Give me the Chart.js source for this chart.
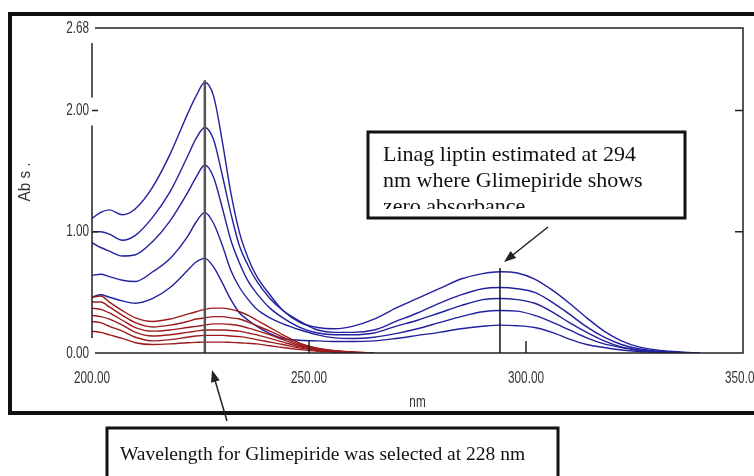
<!DOCTYPE html>
<html>
<head>
<meta charset="utf-8">
<script src="https://cdn.jsdelivr.net/npm/chart.js@4.4.1/dist/chart.umd.min.js"></script>
<style>
  html, body { margin: 0; padding: 0; background: #fff; }
</style>
</head>
<body>
<canvas id="spectra" width="754" height="476"></canvas>
<script>
// comprimentos de onda (nm) usados em todas as curvas
const wavelengths = [200, 202, 204, 207, 210, 214, 218, 222, 224, 226, 228, 230, 232, 234, 236, 238, 241, 244, 248, 252,
                     256, 260, 265, 270, 275, 280, 285, 290, 294, 298, 302, 306, 310, 314, 318, 322, 326, 330, 335, 340];

// linagliptina (azul)
const blue1 = [1.11, 1.16, 1.18, 1.14, 1.19, 1.37, 1.64, 1.97, 2.12, 2.23, 2.12, 1.75, 1.32, 0.99, 0.78, 0.63, 0.48, 0.35, 0.25, 0.21,
               0.20, 0.22, 0.28, 0.37, 0.45, 0.53, 0.61, 0.655, 0.67, 0.66, 0.61, 0.52, 0.41, 0.29, 0.18, 0.10, 0.05, 0.025, 0.01, 0];
const blue2 = [1.00, 1.00, 0.98, 0.93, 0.97, 1.12, 1.33, 1.62, 1.77, 1.86, 1.76, 1.47, 1.15, 0.88, 0.72, 0.59, 0.45, 0.35, 0.26, 0.19,
               0.17, 0.17, 0.19, 0.26, 0.33, 0.41, 0.48, 0.53, 0.54, 0.53, 0.50, 0.42, 0.32, 0.215, 0.13, 0.07, 0.035, 0.015, 0.005, 0];
const blue3 = [0.91, 0.87, 0.84, 0.80, 0.81, 0.92, 1.09, 1.32, 1.45, 1.55, 1.45, 1.20, 0.93, 0.74, 0.59, 0.49, 0.37, 0.29, 0.21, 0.165,
               0.15, 0.15, 0.165, 0.22, 0.27, 0.33, 0.39, 0.44, 0.45, 0.44, 0.41, 0.34, 0.25, 0.17, 0.10, 0.05, 0.025, 0.01, 0.004, 0];
const blue4 = [0.64, 0.65, 0.63, 0.60, 0.59, 0.67, 0.78, 0.96, 1.08, 1.16, 1.07, 0.89, 0.68, 0.54, 0.44, 0.36, 0.29, 0.24, 0.19, 0.15,
               0.125, 0.12, 0.13, 0.16, 0.20, 0.25, 0.30, 0.34, 0.35, 0.345, 0.31, 0.255, 0.19, 0.125, 0.075, 0.045, 0.02, 0.01, 0.003, 0];
const blue5 = [0.46, 0.48, 0.46, 0.43, 0.41, 0.45, 0.54, 0.68, 0.75, 0.78, 0.71, 0.58, 0.44, 0.33, 0.27, 0.22, 0.16, 0.12, 0.105, 0.10,
               0.095, 0.095, 0.10, 0.12, 0.145, 0.17, 0.20, 0.22, 0.23, 0.225, 0.21, 0.17, 0.115, 0.07, 0.045, 0.025, 0.012, 0.005, 0, 0];

// glimepirida (vermelho), so ate 265 nm
const red1 = [0.46, 0.47, 0.42, 0.35, 0.29, 0.26, 0.28, 0.32, 0.34, 0.36, 0.37, 0.37, 0.36, 0.34, 0.31, 0.27, 0.21, 0.15, 0.08, 0.04, 0.02, 0.008, 0];
const red2 = [0.42, 0.42, 0.38, 0.31, 0.25, 0.215, 0.23, 0.26, 0.28, 0.29, 0.30, 0.30, 0.29, 0.28, 0.255, 0.225, 0.18, 0.13, 0.07, 0.035, 0.018, 0.007, 0];
const red3 = [0.37, 0.36, 0.33, 0.27, 0.21, 0.18, 0.19, 0.21, 0.22, 0.23, 0.24, 0.24, 0.235, 0.225, 0.205, 0.185, 0.15, 0.11, 0.06, 0.03, 0.015, 0.006, 0];
const red4 = [0.31, 0.30, 0.28, 0.23, 0.17, 0.14, 0.15, 0.17, 0.18, 0.19, 0.19, 0.19, 0.185, 0.18, 0.165, 0.15, 0.12, 0.09, 0.05, 0.025, 0.012, 0.005, 0];
const red5 = [0.26, 0.25, 0.22, 0.18, 0.13, 0.10, 0.11, 0.13, 0.14, 0.145, 0.145, 0.145, 0.14, 0.135, 0.125, 0.11, 0.09, 0.07, 0.04, 0.02, 0.01, 0.004, 0];
const red6 = [0.18, 0.17, 0.15, 0.12, 0.085, 0.07, 0.075, 0.085, 0.088, 0.09, 0.09, 0.09, 0.088, 0.085, 0.08, 0.075, 0.06, 0.045, 0.028, 0.015, 0.008, 0.003, 0];

// linhas verticais de selecao
const markerWavelengths = [226, 294];
const markerTops = [2.25, 0.70];

// ticks
const xTicks = [200, 250, 300, 350];
const xTickLabels = ['200.00', '250.00', '300.00', '350.00'];
const yTicks = [0, 1, 2, 2.68];
const yTickLabels = ['0.00', '1.00', '2.00', '2.68'];

const BLUE = '#21219e';
const RED = '#9c1c1c';
const sans = "'Liberation Sans', Arial, sans-serif";

function pares(vals) {
    return vals.map((v, i) => ({ x: wavelengths[i], y: v }));
}

function curva(vals, cor, ordem) {
    return {
        data: pares(vals),
        borderColor: cor,
        borderWidth: 1.4,
        pointRadius: 0,
        fill: false,
        cubicInterpolationMode: 'monotone',
        order: ordem
    };
}

// texto estreito (fonte condensada do original)
function textoEstreito(ctx, txt, x, y, align, fator) {
    ctx.save();
    ctx.translate(x, y);
    ctx.scale(fator || 0.69, 1);
    ctx.textAlign = align;
    ctx.fillText(txt, 0, 0);
    ctx.restore();
}

function seta(ctx, x0, y0, x1, y1) {
    const ang = Math.atan2(y1 - y0, x1 - x0);
    ctx.beginPath();
    ctx.moveTo(x0, y0);
    ctx.lineTo(x1 - 8 * Math.cos(ang), y1 - 8 * Math.sin(ang));
    ctx.stroke();
    ctx.beginPath();
    ctx.moveTo(x1, y1);
    ctx.lineTo(x1 - 12 * Math.cos(ang) + 4.5 * Math.sin(ang), y1 - 12 * Math.sin(ang) - 4.5 * Math.cos(ang));
    ctx.lineTo(x1 - 12 * Math.cos(ang) - 4.5 * Math.sin(ang), y1 - 12 * Math.sin(ang) + 4.5 * Math.cos(ang));
    ctx.closePath();
    ctx.fill();
}

// moldura, eixos e anotacoes
const molduraPlugin = {
    id: 'moldura',
    afterDraw(chart) {
        const ctx = chart.ctx;
        const a = chart.chartArea;
        const sx = chart.scales.x;
        const sy = chart.scales.y;
        ctx.save();

        // moldura externa
        ctx.strokeStyle = '#111';
        ctx.lineWidth = 4;
        ctx.beginPath();
        ctx.moveTo(760, 14);
        ctx.lineTo(10, 14);
        ctx.lineTo(10, 413);
        ctx.lineTo(760, 413);
        ctx.stroke();

        // caixa do grafico
        ctx.strokeStyle = '#222';
        ctx.lineWidth = 1.5;
        ctx.beginPath();
        ctx.moveTo(a.left + 3, a.top);
        ctx.lineTo(a.right, a.top);
        ctx.lineTo(a.right, a.bottom);
        ctx.lineTo(a.left + 3, a.bottom);
        ctx.stroke();

        const g = sy.getPixelForValue(2);
        ctx.beginPath();
        ctx.moveTo(a.left, a.top + 15);
        ctx.lineTo(a.left, g - 13);
        ctx.moveTo(a.left, g + 15);
        ctx.lineTo(a.left, a.bottom - 15);
        ctx.stroke();

        // marcas dos ticks
        ctx.beginPath();
        [1, 2].forEach(v => {
            const py = sy.getPixelForValue(v);
            ctx.moveTo(a.left, py);
            ctx.lineTo(a.left + 6, py);
            ctx.moveTo(a.right - 8, py);
            ctx.lineTo(a.right, py);
        });
        [250, 300].forEach(v => {
            const px = sx.getPixelForValue(v);
            ctx.moveTo(px, a.bottom - 12);
            ctx.lineTo(px, a.bottom);
        });
        ctx.stroke();

        // rotulos dos ticks
        ctx.fillStyle = '#333';
        ctx.font = '17px ' + sans;
        ctx.textBaseline = 'middle';
        xTicks.forEach((v, i) => textoEstreito(ctx, xTickLabels[i], sx.getPixelForValue(v), 378, 'center'));
        yTicks.forEach((v, i) => textoEstreito(ctx, yTickLabels[i], a.left - 3, sy.getPixelForValue(v), 'right'));

        // titulos dos eixos
        textoEstreito(ctx, 'nm', (a.left + a.right) / 2, 402, 'center');
        ctx.save();
        ctx.translate(25, 182);
        ctx.rotate(-Math.PI / 2);
        textoEstreito(ctx, 'Ab s .', 0, 0, 'center', 0.9);
        ctx.restore();

        // caixa 1
        ctx.strokeStyle = '#111';
        ctx.fillStyle = '#111';
        ctx.lineWidth = 3;
        ctx.strokeRect(368, 132, 317, 86);
        ctx.save();
        ctx.beginPath();
        ctx.rect(370, 134, 313, 75);
        ctx.clip();
        ctx.font = '22px "Liberation Serif", serif';
        ctx.textAlign = 'left';
        ctx.textBaseline = 'alphabetic';
        ctx.fillText('Linag liptin estimated at 294', 383, 161);
        ctx.fillText('nm where Glimepiride shows', 383, 187);
        ctx.fillText('zero absorbance', 383, 213);
        ctx.restore();

        // caixa 2
        ctx.strokeRect(107, 428, 451, 70);
        ctx.font = '19.5px "Liberation Serif", serif';
        ctx.textAlign = 'left';
        ctx.textBaseline = 'alphabetic';
        ctx.fillText('Wavelength for Glimepiride was selected at 228 nm', 120, 460);

        // setas
        ctx.lineWidth = 1.5;
        ctx.strokeStyle = '#222';
        ctx.fillStyle = '#222';
        seta(ctx, 548, 227, 504, 262);
        seta(ctx, 227, 421, 212, 370);

        ctx.restore();
    }
};

function criarGrafico() {
    const datasets = [];
    markerWavelengths.forEach((w, i) => {
        datasets.push({
            data: [{ x: w, y: markerTops[i] }, { x: w, y: 0 }],
            borderColor: i === 0 ? '#555' : '#111',
            borderWidth: i === 0 ? 2.5 : 1.5,
            pointRadius: 0,
            order: 1
        });
    });
    [red1, red2, red3, red4, red5, red6].forEach(r => datasets.push(curva(r, RED, 2)));
    [blue1, blue2, blue3, blue4, blue5].forEach(b => datasets.push(curva(b, BLUE, 3)));

    const ctx = document.getElementById('spectra').getContext('2d');
    new Chart(ctx, {
        type: 'line',
        data: { datasets: datasets },
        options: {
            responsive: false,
            animation: false,
            devicePixelRatio: 1,
            layout: { padding: { top: 28, right: 11, bottom: 0, left: 0 } },
            plugins: {
                legend: { display: false },
                tooltip: { enabled: false }
            },
            scales: {
                x: {
                    type: 'linear',
                    min: 200,
                    max: 350,
                    grid: { display: false, drawTicks: false },
                    border: { display: false },
                    afterBuildTicks: s => { s.ticks = xTicks.map(v => ({ value: v })); },
                    afterFit: s => { s.height = 123; s.paddingLeft = 0; s.paddingRight = 0; },
                    ticks: { display: false }
                },
                y: {
                    type: 'linear',
                    min: 0,
                    max: 2.68,
                    grid: { display: false, drawTicks: false },
                    border: { display: false },
                    afterBuildTicks: s => { s.ticks = yTicks.map(v => ({ value: v })); },
                    afterFit: s => { s.width = 92; s.paddingTop = 0; s.paddingBottom = 0; },
                    ticks: { display: false }
                }
            }
        },
        plugins: [molduraPlugin]
    });
}

document.addEventListener('DOMContentLoaded', criarGrafico);
</script>
</body>
</html>
